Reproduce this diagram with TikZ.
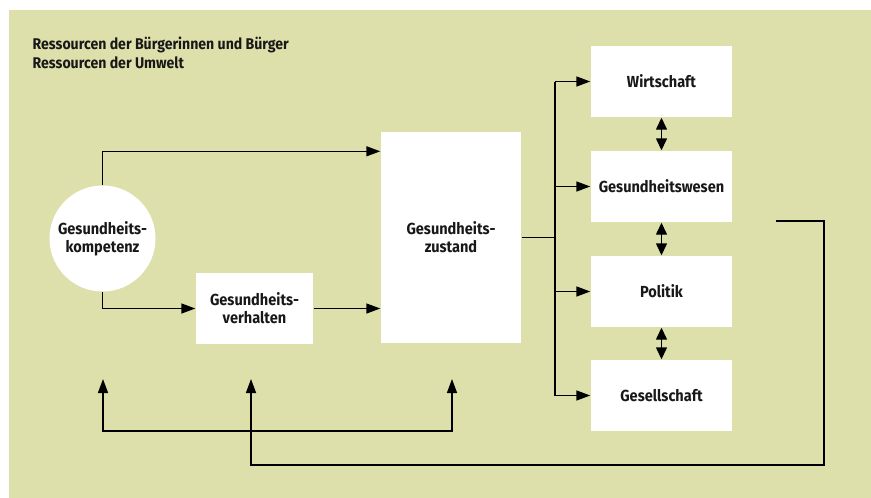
\documentclass[tikz,border=0pt]{standalone}
\usepackage{fontspec}
\setmainfont{Fira Sans}[FakeStretch=0.91]
\usetikzlibrary{arrows.meta}
\definecolor{bgolive}{RGB}{222,224,171}
\definecolor{txtdark}{RGB}{24,24,24}

\begin{document}
\begin{tikzpicture}[x=1pt, y=-1pt, line width=1.4pt,
		box/.style={fill=white, inner sep=0pt, minimum width=141pt, minimum height=71pt, align=center, text=txtdark, font=\bfseries\fontsize{16}{18}\selectfont},
		tip/.style={-{Triangle[length=14pt, width=10pt]}},
		dtip/.style={{Triangle[length=12pt, width=11pt]}-{Triangle[length=12pt, width=11pt]}}]
		\useasboundingbox (0,0) rectangle (871,498);
		\fill[bgolive] (9,10) rectangle (871,498);
		\node[anchor=north west, align=left, inner sep=0pt, text=txtdark, font=\bfseries\fontsize{15.5}{19}\selectfont] (res) at (32,36) {Ressourcen der Bürgerinnen und Bürger\\Ressourcen der Umwelt};
		\node[box, circle, minimum size=106pt] (komp) at (102.5,238.5) {Gesundheits-\\kompetenz};
		\node[box, minimum width=117pt] (verh) at (254.5,308.5) {Gesundheits-\\verhalten};
		\node[box, minimum width=140pt, minimum height=211pt] (zust) at (451,237.5) {Gesundheits-\\zustand};
		\node[box] (wirt) at (661.5,81.5) {Wirtschaft};
		\node[box] (gesw) at (661.5,186.5) {Gesundheitswesen};
		\node[box] (pol) at (661.5,291.5) {Politik};
		\node[box] (gesell) at (661.5,395.5) {Gesellschaft};
		\coordinate (bus) at (555,237.5);
		\coordinate (fbstart) at (776,221);
		\coordinate (fbcorner) at (824,465);
		\coordinate (fbup1) at (103,379);
		\coordinate (fbup2) at (251,379);
		\coordinate (fbup3) at (452,379);
		\coordinate (barleft) at (103,431);
		% inputs to Gesundheitszustand
		\draw[tip] (komp.north) |- ([yshift=-20pt]zust.north west);
		\draw[tip] (komp.south) |- (verh.west);
		\draw[tip] (verh.east) -- (verh.east -| zust.west);
		% distribution to the sectors
		\draw (zust.east) -- (bus);
		\draw (bus |- wirt.west) -- (bus |- gesell.west);
		\foreach \s in {wirt, gesw, pol, gesell}
			\draw[tip] (bus |- \s.west) -- (\s.west);
		\foreach \a/\b in {wirt/gesw, gesw/pol, pol/gesell}
			\draw[dtip] (\a.south) -- (\b.north);
		% feedback
		\draw[tip] (fbstart) -| (fbcorner) -| (fbup2);
		\draw[{Triangle[length=14pt, width=10pt]}-{Triangle[length=14pt, width=10pt]}] (fbup1) -- (barleft) -| (fbup3);
	\end{tikzpicture}
\end{document}
